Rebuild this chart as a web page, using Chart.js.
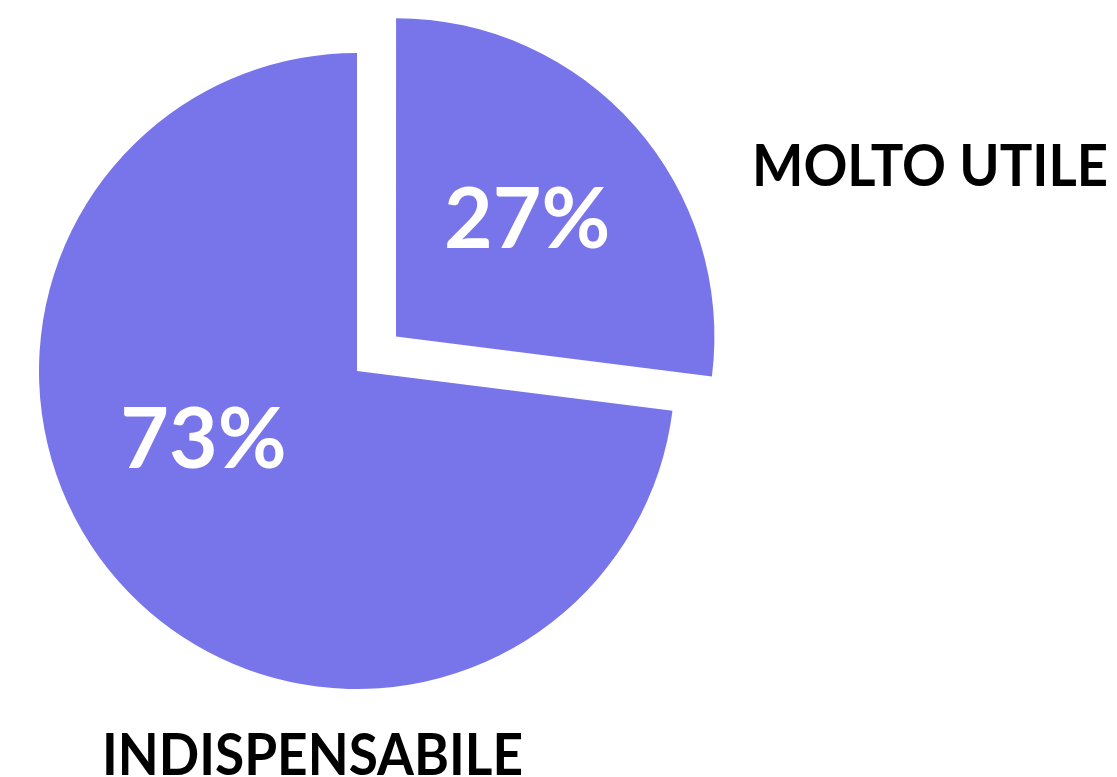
<!DOCTYPE html>
<html>
<head>
<meta charset="utf-8">
<title>Pie</title>
<script src="https://cdn.jsdelivr.net/npm/chart.js@4.4.1/dist/chart.umd.min.js"></script>
<style>
  html, body { margin: 0; padding: 0; background: #ffffff; }
  #wrap { width: 1117px; height: 777px; position: relative; }
</style>
</head>
<body>
<div id="wrap"><canvas id="pie" width="1117" height="777"></canvas></div>
<script>
// Categories and their shares (percent)
const categories = ['MOLTO UTILE', 'INDISPENSABILE'];
const shares = [27, 73];

const sliceColor = '#7875EB';
const FONT = 'Lato, "Open Sans", "DejaVu Sans", sans-serif';

// Where each value label sits: angle shift from slice bisector (deg) and fraction of radius
const valueLabelPlacement = [
  { shift: 0, frac: 0.55 },
  { shift: 17, frac: 0.53 }
];
// Category label anchors (left x, baseline y, width the text is fitted to)
const categoryLabelPlacement = [
  { x: 752, y: 186, w: 356 },
  { x: 102, y: 775, w: 421 }
];

const labelPlugin = {
  id: 'pieLabels',
  afterDatasetsDraw(chart) {
    const ctx = chart.ctx;
    const meta = chart.getDatasetMeta(0);
    ctx.save();
    meta.data.forEach((arc, i) => {
      const p = arc.getProps(['x', 'y', 'startAngle', 'endAngle', 'outerRadius'], true);
      const off = (arc.options.offset || 0) / 4;
      const mid = (p.startAngle + p.endAngle) / 2;
      const cx = p.x + Math.cos(mid) * off;
      const cy = p.y + Math.sin(mid) * off;
      const pl = valueLabelPlacement[i];
      const a = mid + pl.shift * Math.PI / 180;
      const r = p.outerRadius * pl.frac;
      ctx.fillStyle = '#ffffff';
      ctx.font = 'bold 84px ' + FONT;
      ctx.textAlign = 'center';
      ctx.textBaseline = 'middle';
      ctx.fillText(shares[i] + '%', cx + Math.cos(a) * r, cy + Math.sin(a) * r);
    });
    categories.forEach((name, i) => {
      const c = categoryLabelPlacement[i];
      ctx.save();
      ctx.fillStyle = '#000000';
      ctx.font = 'bold 58px ' + FONT;
      ctx.textAlign = 'left';
      ctx.textBaseline = 'alphabetic';
      const natural = ctx.measureText(name).width;
      ctx.translate(c.x, c.y);
      ctx.scale(c.w / natural, 1);
      ctx.fillText(name, 0, 0);
      ctx.restore();
    });
    ctx.restore();
  }
};

new Chart(document.getElementById('pie'), {
  type: 'pie',
  data: {
    labels: categories,
    datasets: [{
      data: shares,
      backgroundColor: sliceColor,
      borderWidth: 0,
      offset: [208, 0],
      hoverOffset: 0
    }]
  },
  options: {
    responsive: false,
    animation: false,
    events: [],
    radius: 318,
    rotation: 0,
    layout: { padding: { left: 28, right: 431, top: 41, bottom: 76 } },
    plugins: {
      legend: { display: false },
      tooltip: { enabled: false }
    }
  },
  plugins: [labelPlugin]
});
</script>
</body>
</html>
